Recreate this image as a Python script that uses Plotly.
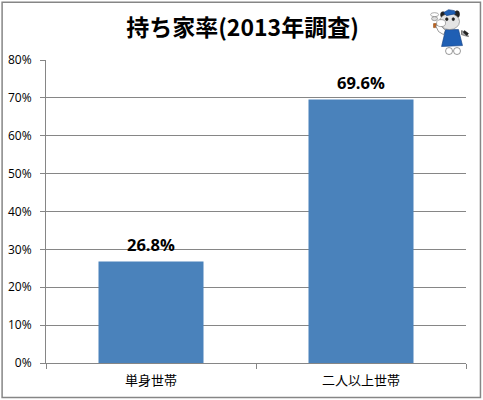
import plotly.graph_objects as go

categories = ["単身世帯", "二人以上世帯"]
values = [26.8, 69.6]
value_labels = ["26.8%", "69.6%"]
tick_values = [0, 10, 20, 30, 40, 50, 60, 70, 80]
tick_labels = ["0%", "10%", "20%", "30%", "40%", "50%", "60%", "70%", "80%"]

W, H = 483, 400
L, R, T, B = 45.5, 466.5, 59.5, 363.5
FONT = "Noto Sans CJK JP"
GREY = "#868686"


def px(x):
    return (x - L) / (R - L)


def py(y):
    return (B - y) / (B - T)


def poly(points, fill, line="#555555", width=0.6):
    d = "M " + " L ".join(f"{px(a):.5f} {py(b):.5f}" for a, b in points) + " Z"
    return dict(type="path", xref="paper", yref="paper", path=d, fillcolor=fill,
                line=dict(color=line, width=width), layer="above")


def oval(x0, y0, x1, y1, fill, line="#555555", width=0.6):
    return dict(type="circle", xref="paper", yref="paper", x0=px(x0), x1=px(x1), y0=py(y1), y1=py(y0),
                fillcolor=fill, line=dict(color=line, width=width), layer="above")


# small decorative mascot, top right
mascot = [
    oval(431, 12, 439, 16, "#ffffff", "#777777"),
    oval(432, 16, 438, 20, "#dddddd", "#777777"),
    poly([(434, 23), (437, 23), (436, 27), (434, 27)], "#c8641e", "#8a4a10"),
    poly([(462, 30), (467, 32), (469, 36), (465, 35), (462, 34)], "#aaaaaa", "#444444"),
    poly([(465, 30), (469, 33), (467, 35), (464, 32)], "#222222", "#222222"),
    oval(446, 47, 453, 54, "#ffffff"),
    oval(454, 47, 461, 54, "#ffffff"),
    poly([(436, 25), (440, 24), (446, 30), (444, 34), (439, 31)], "#ffffff"),
    poly([(446, 29), (459, 29), (463, 45), (442, 46)], "#1f5fb4", "#123e80"),
    oval(441, 11, 446, 17, "#222222", "#222222"),
    oval(455, 10, 460, 17, "#222222", "#222222"),
    oval(440, 13, 460, 29, "#e4e4e4", "#777777"),
    oval(437, 19, 446, 26, "#ffffff", "#777777"),
    poly([(444, 12), (449, 9), (455, 10), (456, 13), (447, 15)], "#1f5fb4", "#123e80"),
    oval(446, 17, 448.5, 20, "#222222", "#222222"),
    oval(452.5, 17, 455, 20, "#222222", "#222222"),
]

border = dict(type="rect", xref="paper", yref="paper", x0=px(1.5), x1=px(481), y0=py(398), y1=py(1.5),
              line=dict(color=GREY, width=1.5), layer="below")

fig = go.Figure(go.Bar(x=categories, y=values, width=0.5, marker=dict(color="#4a82bb", line=dict(width=0))))

annotations = [dict(x=c, y=v, xref="x", yref="y", yshift=17, yanchor="middle", text=f"<b>{t}</b>", showarrow=False,
                    font=dict(family="Open Sans", size=16.5, color="#000000"))
               for c, v, t in zip(categories, values, value_labels)]
annotations += [dict(x=c, y=py(380), xref="x", yref="paper", yanchor="middle", text=c, showarrow=False,
                     font=dict(family=FONT, size=13, color="#000000")) for c in categories]

fig.update_layout(
    width=W, height=H, margin=dict(l=L, r=W - R, t=T, b=H - B, pad=0, autoexpand=False),
    paper_bgcolor="#ffffff", plot_bgcolor="#ffffff", showlegend=False,
    font=dict(family=FONT, size=11, color="#000000"),
    title=dict(text="<b>持ち家率(2013年調査)</b>", x=242.5 / W, xanchor="center", y=1 - 28 / H, yanchor="middle",
               font=dict(family=FONT, size=23, color="#000000")),
    xaxis=dict(showline=True, linecolor=GREY, linewidth=1, ticks="outside", ticklen=5, tickcolor=GREY,
               tickmode="array", tickvals=[-0.5, 0.5, 1.5], ticktext=["", "", ""], range=[-0.5, 1.5],
               showgrid=False, zeroline=False, automargin=False),
    yaxis=dict(range=[0, 80], tickvals=tick_values, ticktext=tick_labels, showline=True, linecolor=GREY, linewidth=1,
               ticks="outside", ticklen=5, tickcolor=GREY, gridcolor=GREY, gridwidth=1, zeroline=False,
               automargin=False, ticklabelstandoff=6, tickfont=dict(family="Open Sans", size=12)),
    shapes=[border] + mascot,
    annotations=annotations,
)
fig.write_html("out.html", config=dict(displayModeBar=False),
               post_script="document.body.style.margin='0';document.documentElement.style.overflow='hidden';")
